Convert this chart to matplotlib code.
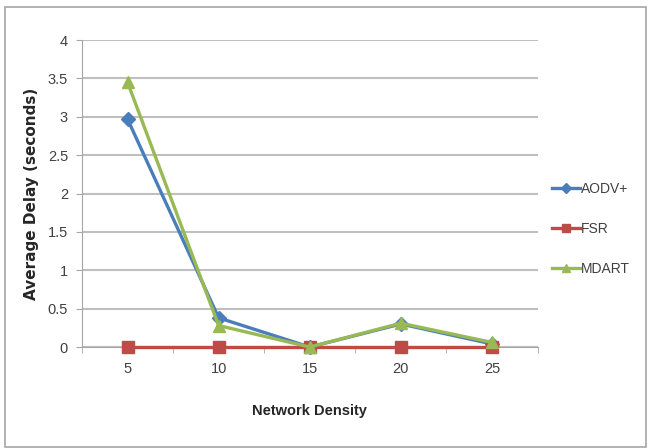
import matplotlib.pyplot as plt
from matplotlib.patches import Rectangle
from matplotlib import font_manager

# network density values and average delay per protocol
densities = ['5', '10', '15', '20', '25']
aodv_delay = [2.97, 0.38, 0.0, 0.30, 0.04]
fsr_delay = [0.0, 0.0, 0.0, 0.0, 0.0]
mdart_delay = [3.45, 0.28, 0.0, 0.31, 0.06]

y_ticks = [0, 0.5, 1, 1.5, 2, 2.5, 3, 3.5, 4]
y_tick_labels = ['0', '0.5', '1', '1.5', '2', '2.5', '3', '3.5', '4']

names = {f.name for f in font_manager.fontManager.ttflist}
narrow = 'Liberation Sans Narrow' if 'Liberation Sans Narrow' in names else 'Liberation Sans'

fig = plt.figure(figsize=(6.48, 4.48), dpi=100)
ax = fig.add_axes([0.1265, 0.2254, 0.703, 0.6853])

# outer chart frame
fig.patches.append(Rectangle((5 / 648, 0.002), 641 / 648, 1 - 7 / 448 - 0.002,
                             transform=fig.transFigure, fill=False,
                             edgecolor='#a6a6a6', linewidth=1.2))

x = list(range(1, len(densities) + 1))
ax.plot(x, aodv_delay, color='#4a7ebb', linewidth=2.4, marker='D', markersize=7,
        label='AODV+', zorder=3, clip_on=False)
ax.plot(x, fsr_delay, color='#be4b48', linewidth=2.4, marker='s', markersize=9,
        label='FSR', zorder=4, clip_on=False)
ax.plot(x, mdart_delay, color='#98b954', linewidth=2.4, marker='^', markersize=9,
        label='MDART', zorder=5, clip_on=False)

ax.set_xlim(0.5, len(densities) + 0.5)
ax.set_ylim(0, 4)
ax.set_yticks(y_ticks)
ax.set_yticklabels(y_tick_labels, fontfamily=narrow, fontsize=10.5, color='#404040')
ax.set_xticks(x)
ax.set_xticklabels(densities, fontfamily=narrow, fontsize=10.5, color='#404040')
ax.set_xticks([i + 0.5 for i in range(0, len(densities) + 1)], minor=True)

ax.tick_params(axis='x', which='major', length=0, pad=11)
ax.tick_params(axis='x', which='minor', length=4, color='#a6a6a6', direction='out')
ax.tick_params(axis='y', length=4, color='#a6a6a6', pad=6)

ax.grid(axis='y', color='#bfbfbf', linewidth=1.5)
ax.set_axisbelow(True)
for side in ['top', 'right']:
    ax.spines[side].set_visible(False)
ax.spines['left'].set_color('#a6a6a6')
ax.spines['bottom'].set_color('#a6a6a6')

ax.set_xlabel('Network Density', fontfamily=narrow, fontweight='bold', fontsize=10.5,
              color='#262626', labelpad=20)
ax.set_ylabel('Average Delay (seconds)', fontfamily='DejaVu Sans', fontweight='bold',
              fontsize=11, color='#262626', labelpad=6)

leg = ax.legend(loc='center left', bbox_to_anchor=(1.005, 0.385), frameon=False,
                prop={'family': narrow, 'size': 10}, labelspacing=1.85,
                handlelength=2.0, handletextpad=0.05, markerscale=0.7)
for t in leg.get_texts():
    t.set_color('#404040')

fig.savefig('out.png', dpi=100)
